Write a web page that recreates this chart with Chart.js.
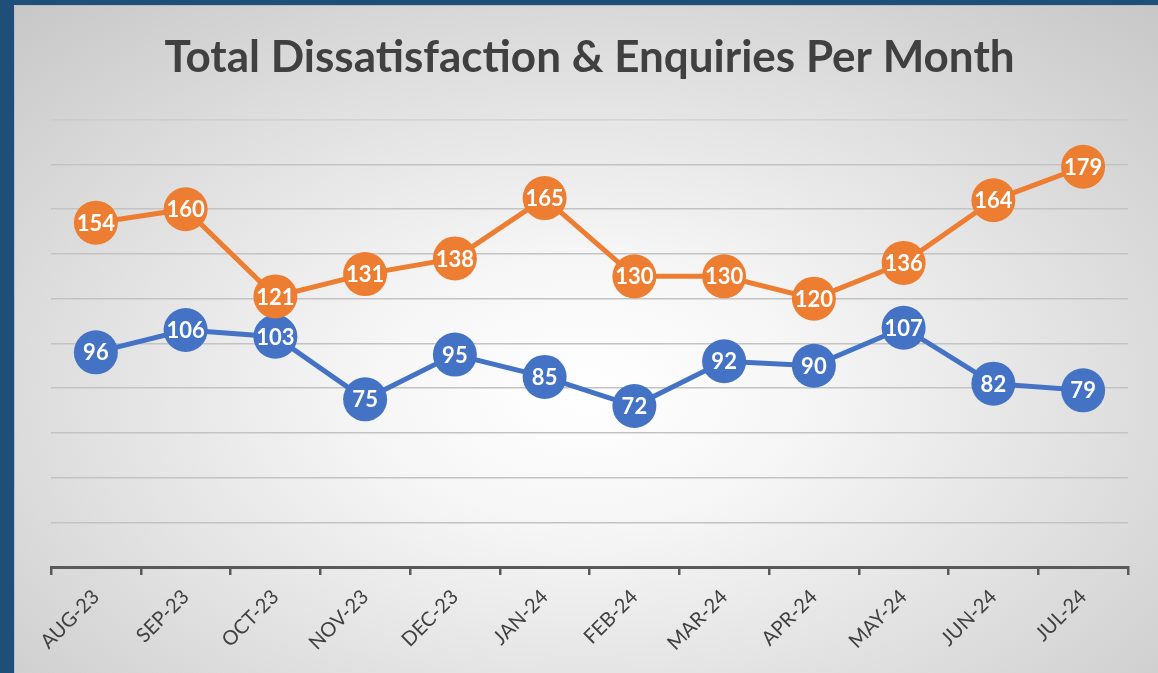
<!DOCTYPE html>
<html>
<head>
<meta charset="utf-8">
<script src="https://cdn.jsdelivr.net/npm/chart.js@4.4.1/dist/chart.umd.min.js"></script>
<style>
  html, body { margin: 0; padding: 0; }
  body { width: 1158px; height: 673px; background: #1f4e79; position: relative; overflow: hidden; }
  #box {
    position: absolute; left: 14px; top: 5px; width: 1144px; height: 668px;
    background: radial-gradient(ellipse 75% 80% at 50% 58%, #ffffff 0%, #f6f6f6 25%, #e0e0e0 60%, #c6c6c6 100%);
    box-shadow: inset 1px 1px 0 #b9bdc4;
  }
  canvas { display: block; }
</style>
</head>
<body>
<div id="box"><canvas id="trendChart" width="1144" height="668"></canvas></div>
<script>
const months = ['AUG-23', 'SEP-23', 'OCT-23', 'NOV-23', 'DEC-23', 'JAN-24', 'FEB-24', 'MAR-24', 'APR-24', 'MAY-24', 'JUN-24', 'JUL-24'];
const dissatisfaction = [154, 160, 121, 131, 138, 165, 130, 130, 120, 136, 164, 179];
const enquiries = [96, 106, 103, 75, 95, 85, 72, 92, 90, 107, 82, 79];

const fontFamily = 'Lato, "Open Sans", sans-serif';
Chart.defaults.font.family = fontFamily;

// draw the value inside each marker
const valueLabels = {
  id: 'valueLabels',
  afterDatasetsDraw(chart) {
    const ctx = chart.ctx;
    ctx.save();
    ctx.font = 'bold 22px ' + fontFamily;
    ctx.fillStyle = '#ffffff';
    ctx.textAlign = 'center';
    ctx.textBaseline = 'middle';
    chart.data.datasets.forEach((ds, i) => {
      chart.getDatasetMeta(i).data.forEach((pt, j) => {
        ctx.fillText(ds.data[j], pt.x, pt.y + 1);
      });
    });
    ctx.restore();
  }
};

const trendChart = new Chart(document.getElementById('trendChart').getContext('2d'), {
  type: 'line',
  data: {
    labels: months,
    datasets: [{
      label: 'Dissatisfaction',
      data: dissatisfaction,
      borderColor: '#ed7d31',
      backgroundColor: '#ed7d31',
      borderWidth: 5,
      pointRadius: 22,
      pointHoverRadius: 22,
      pointBorderWidth: 0,
      pointBackgroundColor: '#ed7d31',
      tension: 0
    }, {
      label: 'Enquiries',
      data: enquiries,
      borderColor: '#4472c4',
      backgroundColor: '#4472c4',
      borderWidth: 5,
      pointRadius: 22,
      pointHoverRadius: 22,
      pointBorderWidth: 0,
      pointBackgroundColor: '#4472c4',
      tension: 0
    }]
  },
  options: {
    responsive: false,
    animation: false,
    layout: { padding: { left: 37, right: 30, top: 0, bottom: 0 } },
    plugins: {
      legend: { display: false },
      tooltip: { enabled: false },
      title: {
        display: true,
        text: 'Total Dissatisfaction & Enquiries Per Month',
        color: '#404040',
        font: { size: 44, weight: 'bold' },
        padding: { top: 26, bottom: 36 }
      }
    },
    scales: {
      x: {
        offset: true,
        grid: {
          offset: true,
          drawOnChartArea: false,
          drawTicks: true,
          tickLength: 8,
          color: '#595959',
          lineWidth: 2.5
        },
        border: { display: true, color: '#595959', width: 3 },
        ticks: {
          color: '#404040',
          font: { size: 20 },
          minRotation: 45,
          maxRotation: 45,
          padding: 10
        },
        afterFit(scale) { scale.height = 106; }
      },
      y: {
        min: 0,
        max: 200,
        ticks: { display: false, stepSize: 20 },
        border: { display: false },
        grid: {
          drawTicks: false,
          lineWidth: 1.5,
          color: (c) => c.tick && c.tick.value === 200 ? 'rgba(200,200,200,0.6)' : '#c3c3c3'
        },
        afterFit(scale) { scale.width = 0; }
      }
    }
  },
  plugins: [valueLabels]
});
</script>
</body>
</html>
